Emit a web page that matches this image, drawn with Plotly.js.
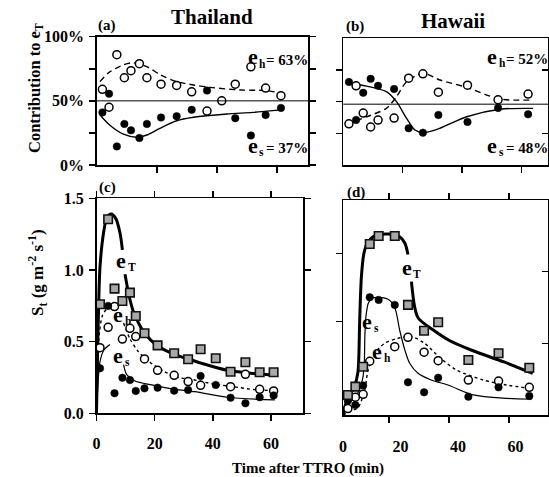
<!DOCTYPE html>
<html><head><meta charset="utf-8">
<script src="https://cdn.plot.ly/plotly-3.0.1.min.js"></script>
<style>html,body{margin:0;padding:0;background:#fff}#chart{width:549px;height:477px}</style>
</head><body><div id="chart"></div>
<script>
// ---------- (a) Thailand: contribution to eT (%) ----------
const a_time = [1.9, 4.1, 6.7, 9.2, 11.4, 14.2, 16.7, 21.4, 26.6, 31.6, 36.7, 41.6, 46.1, 51.3, 56.2, 61.3];
const a_eh   = [59, 45, 86, 68, 73.5, 79, 68, 63, 62, 57, 42, 50, 63, 76.5, 60, 54];
const a_es   = [41, 55.5, 14.5, 32, 27, 21, 32, 37, 38, 43, 58, null, 36.5, 23, 39, 44.5];
const a_fit_h_time = [1.1, 4, 8.8, 12, 16.7, 21.4, 26.6, 32.1, 37.7, 47.6, 56.4, 61.5];
const a_fit_h      = [65, 72, 78, 79.7, 76.6, 70, 65, 62.4, 60.5, 58.5, 58, 56];
const a_fit_s_time = [1.1, 4.4, 8.9, 13.3, 16.7, 21, 26.6, 32.2, 43.3, 52, 61.5];
const a_fit_s      = [39, 31, 24, 21.6, 23.4, 28.6, 34.5, 37.2, 39.8, 41, 43];

// ---------- (b) Hawaii: contribution to eT (%) ----------
const b_time = [1.9, 4.3, 6.7, 9.2, 11.7, 17.1, 22.0, 26.8, 32.0, 41.8, 52.1, 62.2];
const b_eh   = [32.5, 62.5, 41, 30, 35.5, 37, 68.5, 72, 57.5, 63, 51.5, 56];
const b_es   = [65.5, 35.5, 57, 68, 62.5, 60, 29, 25.5, 39.5, 34, 45, 40];
const b_fit_s_time = [1.1, 7.8, 14.5, 17.9, 21.3, 24.1, 26.9, 32.5, 41.5, 52.7, 63.9];
const b_fit_s      = [64.5, 62.3, 57.9, 50, 36.8, 27.6, 25.5, 29, 38.1, 44, 44.7];
const b_fit_h_time = [1.1, 7.8, 14.5, 17.9, 21.3, 26.9, 32.5, 41.5, 52.7, 63.9];
const b_fit_h      = [32.4, 38, 44.7, 53.9, 65.7, 72.4, 67.1, 61.3, 52.1, 51.3];

// ---------- (c) Thailand: St (g m-2 s-1) ----------
const c_time = [1.2, 4.0, 6.2, 8.9, 11.5, 13.5, 16.5, 21.0, 26.7, 31.5, 35.8, 41.0, 46.1, 51.2, 56.1, 60.9];
const c_eT   = [0.761, 1.354, 0.870, 0.784, 0.842, 0.679, 0.558, 0.474, 0.419, 0.377, 0.447, 0.384, 0.290, 0.356, 0.286, 0.286];
const c_eh   = [0.458, 0.600, 0.745, 0.518, 0.593, 0.535, 0.379, 0.300, 0.265, 0.221, 0.195, null, 0.186, 0.272, 0.167, 0.156];
const c_es   = [0.314, 0.749, 0.140, 0.248, 0.232, 0.156, 0.174, 0.179, 0.158, 0.163, 0.260, 0.198, 0.109, 0.070, 0.112, 0.125];
const c_fit_T_time = [0, 0.4, 0.7, 1.2, 2.4, 3.5, 5.0, 6.6, 8.1, 8.9, 9.3, 9.8, 11.2, 12.5, 13.5, 16.5, 21, 27, 33, 36, 45, 53, 61.5];
const c_fit_T      = [0, 0.45, 0.72, 1.02, 1.256, 1.36, 1.39, 1.36, 1.256, 1.14, null, 0.97, 0.82, 0.72, 0.67, 0.56, 0.47, 0.41, 0.37, 0.35, 0.30, 0.28, 0.265];
const c_fit_h_time = [0, 0.4, 1.0, 2.0, 3.5, 4.7, 7.0, 9.3, 11.5, 14.4, 18.4, 23, 28.2, 33.2, 40, 46.9, 54.4, 61.9];
const c_fit_h      = [0, 0.3, 0.56, 0.68, 0.73, 0.755, null, 0.63, 0.52, 0.43, 0.355, 0.295, 0.25, 0.235, 0.205, 0.186, 0.165, 0.158];
const c_fit_s_time = [0, 0.5, 1.2, 2.5, 4.6, 7.0, 9.3, 10.4, 13.3, 19, 27, 33.8, 45.2, 61.3];
const c_fit_s      = [0, 0.2, 0.36, 0.44, 0.48, null, 0.34, 0.27, 0.225, 0.198, 0.167, 0.151, 0.112, 0.093];

// ---------- (d) Hawaii: St (g m-2 s-1) ----------
const d_time = [1.7, 4.3, 7.0, 9.3, 12.4, 18.0, 22.6, 28.2, 33.1, 43.6, 54.1, 64.8];
const d_eT   = [0.140, 0.198, 0.337, 1.193, 1.249, 1.249, 0.768, 0.588, 0.647, 0.384, 0.431, 0.330];
const d_es   = [0.100, 0.070, 0.205, 0.821, 0.803, 0.768, 0.228, 0.158, 0.260, 0.128, 0.193, 0.133];
const d_eh   = [0.045, 0.124, 0.144, 0.375, null, 0.477, 0.542, 0.438, 0.379, 0.244, 0.237, 0.193];
const d_fit_T_time = [0, 0.5, 2, 4, 5.2, 5.8, 6.4, 7.3, 8.5, 11, 15.7, 19.7, 21.5, 22.6, 23.2, 23.8, 24.9, 26.2, 31.4, 37, 45, 56, 66];
const d_fit_T      = [0, 0.05, 0.13, 0.2, 0.3, 0.66, 0.965, 1.13, 1.2, 1.25, 1.263, 1.244, 1.2, 1.12, null, 0.93, 0.756, 0.675, 0.593, 0.52, 0.45, 0.37, 0.29];
const d_fit_s_time = [0, 2, 4.5, 6.8, 7.4, 7.6, 8.0, 8.8, 10, 12.2, 15.7, 18, 19.7, 21.5, 23.2, 26.1, 30.7, 36.5, 45.3, 56.9, 65.6];
const d_fit_s      = [0, 0.08, 0.13, 0.25, 0.36, 0.55, 0.69, 0.78, 0.814, 0.821, 0.807, 0.75, 0.593, 0.454, 0.361, 0.291, 0.244, 0.209, 0.14, 0.116, 0.11];
const d_fit_h_time = [0, 3, 5.2, 7.5, 8.7, 11, 14.5, 19, 23.8, 28.4, 33.7, 39.5, 48.8, 56.9, 65];
const d_fit_h      = [0, 0.03, 0.05, 0.17, 0.31, 0.43, 0.5, 0.535, 0.546, 0.5, 0.4, 0.314, 0.244, 0.209, 0.186];

const xTickVals = [0, 20, 40, 60];
const xTickText = ['0', '20', '40', '60'];
const pctTickVals = [0, 25, 50, 75, 100];
const pctTickText = ['0%', '', '50%', '', '100%'];
const stTickVals = [0, 0.5, 1.0, 1.5];
const stTickText = ['0.0', '0.5', '1.0', '1.5'];

// ---------- helpers ----------
const W = 549, H = 477;
const FAM = 'Liberation Serif, Times New Roman, serif';
const fnt = (size) => ({family: FAM, size: size, color: '#000', weight: 'bold'});
const openM = {symbol: 'circle', size: 8, color: '#fff', line: {color: '#000', width: 1.5}};
const fillM = {symbol: 'circle', size: 7.5, color: '#000', line: {color: '#000', width: 0.5}};
const sqM = {symbol: 'square', size: 8.5, color: '#a8a8a8', line: {color: '#111', width: 1.6}};
function pts(x, y, m, xa, ya) { return {type: 'scatter', mode: 'markers', x: x, y: y, marker: m, xaxis: xa, yaxis: ya, hoverinfo: 'skip', cliponaxis: false}; }
function ln(x, y, w, dash, xa, ya) { return {type: 'scatter', mode: 'lines', x: x, y: y, line: {color: '#000', width: w, dash: dash, shape: 'spline', smoothing: 0.8}, connectgaps: false, xaxis: xa, yaxis: ya, hoverinfo: 'skip'}; }

const traces = [
  // (a)
  ln(a_fit_h_time, a_fit_h, 1.4, '6px,4px', 'x', 'y'),
  ln(a_fit_s_time, a_fit_s, 1.4, 'solid', 'x', 'y'),
  pts(a_time, a_es, fillM, 'x', 'y'),
  pts(a_time, a_eh, openM, 'x', 'y'),
  // (b)
  ln(b_fit_h_time, b_fit_h, 1.4, '6px,4px', 'x2', 'y2'),
  ln(b_fit_s_time, b_fit_s, 1.4, 'solid', 'x2', 'y2'),
  pts(b_time, b_es, fillM, 'x2', 'y2'),
  pts(b_time, b_eh, openM, 'x2', 'y2'),
  // (c)
  ln(c_fit_T_time, c_fit_T, 3, 'solid', 'x3', 'y3'),
  ln(c_fit_h_time, c_fit_h, 1.4, '3px,3px', 'x3', 'y3'),
  ln(c_fit_s_time, c_fit_s, 1.2, 'solid', 'x3', 'y3'),
  pts(c_time, c_eh, openM, 'x3', 'y3'),
  pts(c_time, c_es, fillM, 'x3', 'y3'),
  pts(c_time, c_eT, sqM, 'x3', 'y3'),
  // (d)
  ln(d_fit_T_time, d_fit_T, 3, 'solid', 'x4', 'y4'),
  ln(d_fit_h_time, d_fit_h, 1.4, '3px,3px', 'x4', 'y4'),
  ln(d_fit_s_time, d_fit_s, 1.2, 'solid', 'x4', 'y4'),
  pts(d_time, d_eh, openM, 'x4', 'y4'),
  pts(d_time, d_es, fillM, 'x4', 'y4'),
  pts(d_time, d_eT, sqM, 'x4', 'y4'),
  // carriers for right-side tick axes
  {type: 'scatter', mode: 'markers', x: [], y: [], xaxis: 'x2', yaxis: 'y6', hoverinfo: 'skip'},
  {type: 'scatter', mode: 'markers', x: [], y: [], xaxis: 'x4', yaxis: 'y5', hoverinfo: 'skip'}
];

const axBase = {showgrid: false, zeroline: false, showline: true, linecolor: '#000', linewidth: 1.5,
  ticks: 'outside', ticklen: 6, tickwidth: 1.5, tickcolor: '#000', tickfont: fnt(16), fixedrange: true};
const dx = (p0, p1) => [p0 / W, p1 / W];
const dy = (top, bot) => [1 - bot / H, 1 - top / H];

const layout = {
  width: W, height: H, margin: {l: 0, r: 0, t: 0, b: 0},
  paper_bgcolor: '#fff', plot_bgcolor: 'rgba(0,0,0,0)', showlegend: false,
  font: fnt(15),
  xaxis:  Object.assign({}, axBase, {domain: dx(96.7, 308), range: [0, 70.3], anchor: 'y', tickvals: [20, 40, 60], showticklabels: false, mirror: true}),
  yaxis:  Object.assign({}, axBase, {domain: dy(36.7, 165), range: [0, 100], anchor: 'x', tickvals: pctTickVals, ticktext: pctTickText, mirror: 'ticks', ticklabelstandoff: 2}),
  xaxis2: Object.assign({}, axBase, {domain: dx(343.3, 548), range: [0, 68.9], anchor: 'y2', tickvals: [20, 40, 60], showticklabels: false, mirror: true}),
  yaxis2: Object.assign({}, axBase, {domain: dy(38.3, 165), range: [0, 100], anchor: 'x2', tickvals: [25, 50, 75], showticklabels: false, mirror: true}),
  yaxis6: Object.assign({}, axBase, {domain: dy(38.3, 165), range: [0, 100], anchor: 'x2', overlaying: 'y2', side: 'right', tickvals: [25, 75], ticks: 'inside', showticklabels: false, showline: false}),
  xaxis3: Object.assign({}, axBase, {domain: dx(96.5, 303), range: [0, 71], anchor: 'y3', tickvals: xTickVals, ticktext: xTickText, mirror: 'ticks', ticklabelstandoff: 9}),
  yaxis3: Object.assign({}, axBase, {domain: dy(198.3, 413.3), range: [0, 1.5], anchor: 'x3', tickvals: stTickVals, ticktext: stTickText, mirror: 'ticks', ticklabelstandoff: 2}),
  xaxis4: Object.assign({}, axBase, {domain: dx(343, 548), range: [0, 71.3], anchor: 'y4', tickvals: xTickVals, ticktext: xTickText, ticks: '', mirror: 'ticks', ticklabelstandoff: 16,
    minor: {tickvals: [16, 36.9, 57.7], ticks: 'outside', ticklen: 6, tickwidth: 1.5, tickcolor: '#000', showgrid: false}}),
  yaxis4: Object.assign({}, axBase, {domain: dy(200, 415), range: [0, 1.5], anchor: 'x4', tickvals: [0.651, 1.127], showticklabels: false, mirror: true}),
  yaxis5: Object.assign({}, axBase, {domain: dy(200, 415), range: [0, 1.5], anchor: 'x4', overlaying: 'y4', side: 'right', tickvals: [0.5, 1.0], ticks: 'inside', showticklabels: false, showline: false}),
  shapes: [
    {type: 'line', xref: 'x domain', yref: 'y', x0: 0, x1: 1, y0: 50, y1: 50, line: {color: '#000', width: 1}},
    {type: 'line', xref: 'x2 domain', yref: 'y2', x0: 0, x1: 1, y0: 48, y1: 48, line: {color: '#000', width: 1}}
  ],
  annotations: []
};

function ann(text, px, py, size, extra) {
  return Object.assign({text: text, x: px / W, y: 1 - py / H, xref: 'paper', yref: 'paper', showarrow: false,
    font: fnt(size), xanchor: 'center', yanchor: 'middle', borderpad: 0}, extra || {});
}
// big "e", small lowered subscript letter, optional rest; eRight = right edge of "e", cy = centre of "e"
function eLabel(sub, rest, eRight, cy) {
  const out = [
    ann('e', eRight, cy - 3, 22, {xanchor: 'right'}),
    ann(sub, eRight - 0.5, cy + 4, 11.5, {xanchor: 'left'})
  ];
  if (rest) out.push(ann(rest, eRight + 6.5, cy, 15, {xanchor: 'left'}));
  return out;
}
layout.annotations.push(
  ann('Thailand', 212, 17, 21),
  ann('Hawaii', 453, 21, 21),
  ann('(a)', 107, 25, 15),
  ann('(b)', 355, 27, 15),
  ann('(c)', 107, 187, 15),
  ann('(d)', 356, 192, 15),
  ...eLabel('h', '= 63%', 258.5, 60),
  ...eLabel('s', '= 37%', 258.5, 148),
  ...eLabel('h', '= 52%', 498, 59),
  ...eLabel('s', '= 48%', 498, 148),
  ...eLabel('T', '', 127, 263),
  ...eLabel('h', '', 124, 317),
  ...eLabel('s', '', 124, 358),
  ...eLabel('T', '', 413, 270),
  ...eLabel('s', '', 373, 324),
  ...eLabel('h', '', 383, 354),
  ann('Contribution to e<sub>T</sub>', 35, 88, 16.5, {textangle: -90}),
  ann('S<sub>t</sub> (g m<sup>-2</sup> s<sup>-1</sup>)', 37, 273, 17, {textangle: -90}),
  ann('Time after TTRO (min)', 308, 468, 15)
);

Plotly.newPlot('chart', traces, layout, {staticPlot: true, displayModeBar: false});
</script>
</body></html>
